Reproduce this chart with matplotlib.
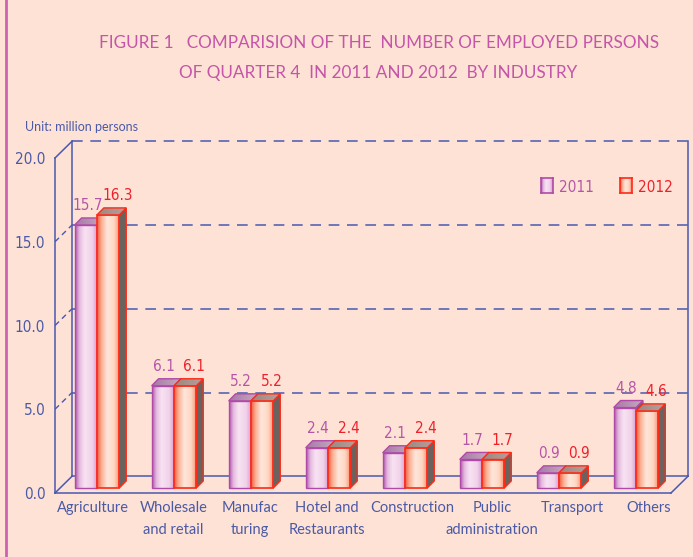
import numpy as np
import matplotlib.pyplot as plt
from matplotlib.colors import LinearSegmentedColormap
from matplotlib.patches import Polygon
from matplotlib.lines import Line2D

################################################################################
# Data
################################################################################
categories = ["Agriculture", "Wholesale\nand retail", "Manufac\nturing",
              "Hotel and\nRestaurants", "Construction", "Public\nadministration",
              "Transport", "Others"]
emp_2011 = [15.7, 6.1, 5.2, 2.4, 2.1, 1.7, 0.9, 4.8]
emp_2012 = [16.3, 6.1, 5.2, 2.4, 2.4, 1.7, 0.9, 4.6]
series = ["2011", "2012"]
yticks = [0, 5, 10, 15, 20]
ytick_labels = ["0.0", "5.0", "10.0", "15.0", "20.0"]

################################################################################
# Styles
################################################################################
BG = "#FDE2D5"
BLUE = "#4A58B0"
TXT_BLUE = "#4B5AA6"
PINK = "#C455A8"
C11 = "#B655A8"
C12 = "#F0202A"
SANS = ["Lato", "DejaVu Sans"]
narrow_fp = dict(family=["DejaVu Sans"], stretch="condensed")

cmap11 = LinearSegmentedColormap.from_list(
    "c11", [(0, "#B056AC"), (0.2, "#E6BCE0"), (0.42, "#F8E3F2"), (0.75, "#F1D2EA"), (1, "#D696CC")])
cmap12 = LinearSegmentedColormap.from_list(
    "c12", [(0, "#F05A38"), (0.2, "#FAB094"), (0.45, "#FFE7DB"), (0.75, "#FFD6C2"), (1, "#F58C6C")])
top11 = LinearSegmentedColormap.from_list("t11", ["#A878A8", "#C6ACBE"])
top12 = LinearSegmentedColormap.from_list("t12", ["#9C8880", "#B8A09A"])

XMIN, XMAX = -0.545, 7.675
YMAX = 353 / 16.75
DX, DY = 0.221, 1.0      # wall depth
BW = 0.29                # bar width
BASE = 0.3               # bar base above front floor
TDX, TDY = 0.09, 0.42    # bar depth
label_shift = np.array([-0.05, -0.01, -0.01, -0.01, 0.09, 0.13, 0.17, 0.17])


def fx(px):
    return px / 693


def fy(py):
    return 1 - py / 557


def grad_fill(ax, patch, cmap, z):
    if isinstance(patch, Polygon):
        xy = patch.get_xy()
        ext = [xy[:, 0].min(), xy[:, 0].max(), xy[:, 1].min(), xy[:, 1].max()]
    else:
        x0, y0 = patch.get_xy()
        ext = [x0, x0 + patch.get_width(), y0, y0 + patch.get_height()]
    im = ax.imshow(np.linspace(0, 1, 256)[None, :], cmap=cmap, extent=ext,
                   aspect="auto", zorder=z, interpolation="bicubic")
    im.set_clip_path(patch)


################################################################################
# Figure
################################################################################
fig = plt.figure(figsize=(6.93, 5.57), dpi=100, facecolor=BG)
fig.add_artist(Line2D([fx(6), fx(6)], [0, 1], color="#D060B4", lw=2))

fig.text(fx(379), fy(43), "FIGURE 1   COMPARISION OF THE  NUMBER OF EMPLOYED PERSONS",
         ha="center", va="center", color=PINK, fontsize=12.3, family=SANS)
fig.text(fx(378), fy(73), "OF QUARTER 4  IN 2011 AND 2012  BY INDUSTRY",
         ha="center", va="center", color=PINK, fontsize=12.3, family=SANS)
fig.text(fx(25), fy(127), "Unit: million persons", ha="left", va="center",
         color=TXT_BLUE, fontsize=9, family=SANS)

ax = fig.add_axes([fx(55), fy(493), (688 - 55) / 693, (493 - 140) / 557])
ax.set_facecolor("none")
for s in ax.spines.values():
    s.set_visible(False)

# frame (front axis, floor, back wall)
lk = dict(color=BLUE, lw=1.1, clip_on=False, zorder=2)
bx = XMIN + DX
fr = XMAX - DX
ax.plot([XMIN, XMIN], [0, 20], **lk)
ax.plot([XMIN, fr], [0, 0], **lk)
ax.plot([XMIN, bx], [0, DY], **lk)
ax.plot([XMIN, bx], [20, 20 + DY], **lk)
ax.plot([bx, bx], [DY, 20 + DY], **lk)
ax.plot([bx, XMAX], [DY, DY], **lk)
ax.plot([fr, XMAX], [0, DY], **lk)
ax.plot([XMAX, XMAX], [DY, 20 + DY], **lk)
ax.plot([bx, XMAX], [20 + DY, 20 + DY], color=BLUE, lw=1.1, ls=(0, (7, 5)), clip_on=False, zorder=1)
for v in yticks[1:-1]:
    ax.plot([bx, XMAX], [v + DY, v + DY], color=BLUE, lw=1.1, ls=(0, (7, 5)), zorder=1)
    ax.plot([XMIN, bx], [v, v + DY], color=BLUE, lw=1.0, ls=(0, (4, 3)), zorder=1)

x = np.arange(len(categories))
bars11 = ax.bar(x - BW / 2, emp_2011, BW, bottom=BASE, facecolor="none",
                edgecolor="#B04AA8", lw=1.0)
bars12 = ax.bar(x + BW / 2, emp_2012, BW, bottom=BASE, facecolor="none",
                edgecolor="#FF2A18", lw=1.2)

for bars, cm, tcm, ec, z in [(bars11, cmap11, top11, "#B04AA8", 3),
                             (bars12, cmap12, top12, "#FF2A18", 4)]:
    for b in bars:
        b.set_zorder(z + 0.1)
        grad_fill(ax, b, cm, z)
        x0 = b.get_x()
        w = b.get_width()
        t = b.get_y() + b.get_height()
        side = Polygon([(x0 + w, BASE), (x0 + w + TDX, BASE + TDY),
                        (x0 + w + TDX, t + TDY), (x0 + w, t)],
                       closed=True, facecolor="#6B625E", edgecolor=ec, lw=1.0, zorder=z + 0.2)
        ax.add_patch(side)
        top = Polygon([(x0, t), (x0 + w, t), (x0 + w + TDX, t + TDY), (x0 + TDX, t + TDY)],
                      closed=True, facecolor="none", edgecolor=ec, lw=1.0, zorder=z + 0.3)
        ax.add_patch(top)
        grad_fill(ax, top, tcm, z + 0.25)

for i in x:
    ax.text(i - BW / 2 + 0.02, emp_2011[i] + BASE + 1.15, f"{emp_2011[i]:.1f}",
            ha="center", va="center", color=C11, fontsize=11, **narrow_fp)
    ax.text(i + BW / 2 + 0.12, emp_2012[i] + BASE + 1.15, f"{emp_2012[i]:.1f}",
            ha="center", va="center", color=C12, fontsize=11, **narrow_fp)

ax.set_xlim(XMIN, XMAX)
ax.set_ylim(0, YMAX)
ax.set_yticks(yticks, ytick_labels, fontsize=11, color=TXT_BLUE, **narrow_fp)

# category labels: first line as tick label, second line as its own text row
label_x = x + label_shift
first = [c.split("\n")[0] for c in categories]
ax.set_xticks(label_x, first, family=SANS, fontsize=10.5, color=TXT_BLUE)
for lx, c in zip(label_x, categories):
    if "\n" in c:
        ax.text(lx, -(530 - 493) / 353, c.split("\n")[1], transform=ax.get_xaxis_transform(),
                ha="center", va="center", family=SANS, fontsize=10.5, color=TXT_BLUE)
ax.tick_params(axis="y", length=0, pad=7)
ax.tick_params(axis="x", length=0, pad=6)

################################################################################
# Legend
################################################################################
for name, cm, ec, col, px in [(series[0], cmap11, "#B04AA8", C11, 541),
                              (series[1], cmap12, "#FF2A18", C12, 620)]:
    lax = fig.add_axes([fx(px), fy(193), 12 / 693, 15 / 557])
    lax.imshow(np.linspace(0, 1, 64)[None, :], cmap=cm, aspect="auto")
    lax.set_xticks([])
    lax.set_yticks([])
    for s in lax.spines.values():
        s.set_color(ec)
        s.set_linewidth(1.2)
    fig.text(fx(px + 18), fy(187), name, ha="left", va="center", color=col,
             fontsize=11, **narrow_fp)

plt.savefig("out.png", dpi=100, facecolor=BG)
plt.close()
